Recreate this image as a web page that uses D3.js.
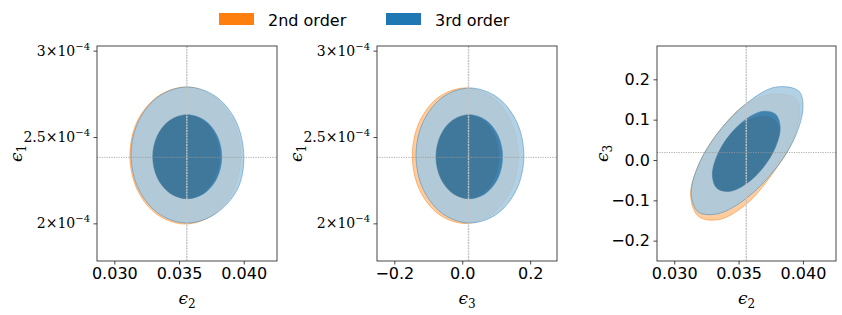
<!DOCTYPE html>
<html>
<head>
<meta charset="utf-8">
<script src="https://cdn.jsdelivr.net/npm/d3@7.9.0/dist/d3.min.js"></script>
<style>
  body { margin: 0; background: #fff; }
  svg { display: block; }
</style>
</head>
<body>
<div id="chart"></div>
<script>
// series
const seriesNames = ['2nd order', '3rd order'];
const seriesColors = ['#ff7f0e', '#1f77b4'];

// true parameter values (cross-hair lines)
const truthEps1 = 2.382e-4;
const truthEps2 = 0.0356;
const truthEps3 = 0.0185;

// axis ranges
const eps2Range = [0.02866, 0.04257];
const eps1Range = [1.782e-4, 3.027e-4];
const eps3RangeX = [-0.251, 0.279];
const eps3RangeY = [-0.2504, 0.2826];

// tick values
const eps2Ticks = [0.030, 0.035, 0.040];
const eps1Ticks = [2e-4, 2.5e-4, 3e-4];
const eps3TicksX = [-0.2, 0.0, 0.2];
const eps3TicksY = [-0.2, -0.1, 0.0, 0.1, 0.2];

// contours, [x, y] pairs
// panel 1: eps2 (x) vs eps1 (y)
const e2e1Outer2nd = [[0.039768,2.3928e-4],[0.039196,2.5915e-4],[0.037628,2.7364e-4],[0.035580,2.7897e-4],[0.033377,2.7364e-4],[0.031770,2.5915e-4],
  [0.031198,2.3928e-4],[0.031770,2.1941e-4],[0.033338,2.0492e-4],[0.035483,1.9959e-4],[0.037628,2.0492e-4],[0.039196,2.1941e-4]];
const e2e1Inner2nd = [[0.038145,2.3859e-4],[0.037797,2.5075e-4],[0.036851,2.5968e-4],[0.035557,2.6292e-4],[0.034262,2.5968e-4],[0.033315,2.5075e-4],
  [0.032968,2.3859e-4],[0.033315,2.2642e-4],[0.034262,2.1750e-4],[0.035557,2.1425e-4],[0.036851,2.1750e-4],[0.037797,2.2642e-4]];
const e2e1Outer3rd = [[0.040008,2.3859e-4],[0.039390,2.5927e-4],[0.037797,2.7370e-4],[0.035630,2.7897e-4],[0.033462,2.7370e-4],[0.031870,2.5927e-4],
  [0.031291,2.3957e-4],[0.031870,2.1987e-4],[0.033462,2.0544e-4],[0.035630,2.0017e-4],[0.037797,2.0544e-4],[0.039521,2.1987e-4]];
const e2e1Inner3rd = [[0.038300,2.3859e-4],[0.037944,2.5075e-4],[0.036967,2.5968e-4],[0.035634,2.6292e-4],[0.034301,2.5968e-4],[0.033323,2.5075e-4],
  [0.032968,2.3859e-4],[0.033323,2.2642e-4],[0.034301,2.1750e-4],[0.035634,2.1425e-4],[0.036967,2.1750e-4],[0.037944,2.2642e-4]];

// panel 2: eps3 (x) vs eps1 (y)
const e3e1Outer2nd = [[0.16470,2.3917e-4],[0.14381,2.5878e-4],[0.08676,2.7312e-4],[0.00882,2.7839e-4],[-0.06911,2.7312e-4],[-0.12617,2.5878e-4],
  [-0.14705,2.3917e-4],[-0.12617,2.1955e-4],[-0.06911,2.0521e-4],[0.00882,1.9994e-4],[0.08676,2.0521e-4],[0.14381,2.1955e-4]];
const e3e1Inner2nd = [[0.10882,2.3859e-4],[0.09635,2.5075e-4],[0.06229,2.5968e-4],[0.01573,2.6292e-4],[-0.03079,2.5968e-4],[-0.06488,2.5075e-4],
  [-0.07735,2.3859e-4],[-0.06488,2.2642e-4],[-0.03079,2.1750e-4],[0.01573,2.1425e-4],[0.06229,2.1750e-4],[0.09635,2.2642e-4]];
const e3e1Outer3rd = [[0.18146,2.3928e-4],[0.16028,2.5884e-4],[0.10205,2.7315e-4],[0.02265,2.7839e-4],[-0.05676,2.7315e-4],[-0.11499,2.5884e-4],
  [-0.13617,2.3928e-4],[-0.11499,2.1973e-4],[-0.05676,2.0541e-4],[0.02265,2.0017e-4],[0.10205,2.0541e-4],[0.16028,2.1973e-4]];
const e3e1Inner3rd = [[0.11882,2.3859e-4],[0.10567,2.5075e-4],[0.06979,2.5968e-4],[0.02073,2.6292e-4],[-0.02832,2.5968e-4],[-0.06420,2.5075e-4],
  [-0.07735,2.3859e-4],[-0.06420,2.2642e-4],[-0.02832,2.1750e-4],[0.02073,2.1425e-4],[0.06979,2.1750e-4],[0.10567,2.2642e-4]];

// panel 3: eps2 (x) vs eps3 (y)
const e2e3Outer2nd = [[0.039745,0.1241],[0.039242,0.0496],[0.037835,-0.0248],[0.035661,-0.1079],[0.033488,-0.1476],[0.031895,-0.1402],
  [0.031276,-0.0893],[0.031895,-0.0117],[0.033488,0.0713],[0.035661,0.1402],[0.037835,0.1638],[0.039474,0.1514]];
const e2e3Inner2nd = [[0.038159,0.0744],[0.037881,0.0329],[0.036918,-0.0184],[0.035599,-0.0589],[0.034281,-0.0779],[0.033318,-0.0703],
  [0.032962,-0.0381],[0.033318,0.0100],[0.034281,0.0613],[0.035599,0.0968],[0.036918,0.1092],[0.037811,0.0993]];
const e2e3Outer3rd = [[0.040010,0.1333],[0.039428,0.0598],[0.037835,-0.0232],[0.035661,-0.0935],[0.033488,-0.1324],[0.031895,-0.1293],
  [0.031315,-0.0851],[0.031895,-0.0117],[0.033488,0.0713],[0.035661,0.1417],[0.037835,0.1805],[0.039667,0.1712]];
const e2e3Inner3rd = [[0.038237,0.0810],[0.037881,0.0329],[0.036918,-0.0184],[0.035599,-0.0589],[0.034281,-0.0779],[0.033318,-0.0703],
  [0.032962,-0.0381],[0.033318,0.0100],[0.034281,0.0613],[0.035599,0.1019],[0.036918,0.1208],[0.037881,0.1133]];

const width = 842, height = 315;
const svg = d3.select('#chart').append('svg')
  .attr('width', width)
  .attr('height', height);

const fmtMinus = s => s.replace('-', '\u2212');
const sansFont = "'DejaVu Sans', sans-serif";
const serifFont = "'DejaVu Serif', serif";
const frameColor = '#333';

function drawPanel(p) {
  const x = d3.scaleLinear().domain(p.xDomain).range([p.left, p.right]);
  const y = d3.scaleLinear().domain(p.yDomain).range([p.bottom, p.top]);
  const g = svg.append('g');

  const clipId = 'clip' + p.id;
  g.append('clipPath').attr('id', clipId)
    .append('rect')
    .attr('x', p.left).attr('y', p.top)
    .attr('width', p.right - p.left).attr('height', p.bottom - p.top);

  const plot = g.append('g').attr('clip-path', `url(#${clipId})`);

  const line = d3.line()
    .x(d => x(d[0])).y(d => y(d[1]))
    .curve(d3.curveCatmullRomClosed.alpha(0.5));

  // 2nd order drawn solid, 3rd order on top with alpha (getdist style)
  p.contours.forEach((c, i) => {
    const col = seriesColors[i];
    const pale = d3.interpolateRgb('#ffffff', col)(0.4);
    const cg = plot.append('g').attr('opacity', i === 0 ? 1 : 0.85);
    cg.append('path')
      .attr('d', line(c.outer))
      .attr('fill', pale)
      .attr('stroke', col)
      .attr('stroke-width', 0.5);
    cg.append('path')
      .attr('d', line(c.inner))
      .attr('fill', col)
      .attr('stroke', col)
      .attr('stroke-width', 0.5);
  });

  // cross-hair
  plot.append('line')
    .attr('x1', x(p.xTruth)).attr('x2', x(p.xTruth))
    .attr('y1', p.top).attr('y2', p.bottom)
    .attr('stroke', '#c4c4c4').attr('stroke-width', 1.4)
    .attr('stroke-dasharray', '2,0.8');
  plot.append('line')
    .attr('x1', p.left).attr('x2', p.right)
    .attr('y1', y(p.yTruth)).attr('y2', y(p.yTruth))
    .attr('stroke', '#999').attr('stroke-width', 0.8)
    .attr('stroke-dasharray', '1.2,1.2');

  // axes
  const xAxisG = g.append('g')
    .attr('transform', `translate(0,${p.bottom})`)
    .call(d3.axisBottom(x).tickValues(p.xTicks).tickSize(3.5).tickPadding(3.5).tickFormat(p.xFormat));
  const yAxisG = g.append('g')
    .attr('transform', `translate(${p.left},0)`)
    .call(d3.axisLeft(y).tickValues(p.yTicks).tickSize(3.5).tickPadding(3.5).tickFormat(p.yFormat));

  [xAxisG, yAxisG].forEach(a => {
    a.select('.domain').remove();
    a.selectAll('.tick line').attr('stroke', frameColor).attr('stroke-width', 0.9);
    a.selectAll('.tick text').attr('fill', '#000')
      .style('font-family', sansFont).style('font-size', '16px');
  });

  if (p.sciY) {
    yAxisG.selectAll('.tick text').each(function(d) {
      const t = d3.select(this).text('').style('font-family', serifFont).style('font-size', '14px');
      t.append('tspan').text(d3.format('~g')(d / 1e-4) + '\u00d710');
      t.append('tspan').attr('dy', -6).style('font-size', '10px').text('\u22124');
    });
  }

  // frame
  g.append('rect')
    .attr('x', p.left).attr('y', p.top)
    .attr('width', p.right - p.left).attr('height', p.bottom - p.top)
    .attr('fill', 'none').attr('stroke', frameColor).attr('stroke-width', 0.9);

  // axis labels
  const xl = g.append('text')
    .attr('x', (p.left + p.right) / 2).attr('y', 304)
    .attr('text-anchor', 'middle')
    .style('font-family', serifFont).style('font-size', '17px').style('font-style', 'italic');
  xl.append('tspan').text('\u03f5');
  xl.append('tspan').attr('dy', 4).style('font-size', '12px').style('font-style', 'normal').text(p.xSub);

  const yl = g.append('text')
    .attr('transform', `translate(${p.yLabelX},${(p.top + p.bottom) / 2}) rotate(-90)`)
    .attr('text-anchor', 'middle')
    .style('font-family', serifFont).style('font-size', '17px').style('font-style', 'italic');
  yl.append('tspan').text('\u03f5');
  yl.append('tspan').attr('dy', 4).style('font-size', '12px').style('font-style', 'normal').text(p.ySub);
}

drawPanel({
  id: 1, left: 97, right: 277, top: 46, bottom: 261,
  xDomain: eps2Range, yDomain: eps1Range,
  xTicks: eps2Ticks, yTicks: eps1Ticks,
  xFormat: d3.format('.3f'), yFormat: d3.format('~g'), sciY: true,
  xTruth: truthEps2, yTruth: truthEps1,
  xSub: '2', ySub: '1', yLabelX: 22,
  contours: [
    { outer: e2e1Outer2nd, inner: e2e1Inner2nd },
    { outer: e2e1Outer3rd, inner: e2e1Inner3rd }
  ]
});

drawPanel({
  id: 2, left: 377, right: 557, top: 46, bottom: 261,
  xDomain: eps3RangeX, yDomain: eps1Range,
  xTicks: eps3TicksX, yTicks: eps1Ticks,
  xFormat: d => fmtMinus(d3.format('.1f')(d)), yFormat: d3.format('~g'), sciY: true,
  xTruth: truthEps3, yTruth: truthEps1,
  xSub: '3', ySub: '1', yLabelX: 302,
  contours: [
    { outer: e3e1Outer2nd, inner: e3e1Inner2nd },
    { outer: e3e1Outer3rd, inner: e3e1Inner3rd }
  ]
});

drawPanel({
  id: 3, left: 657, right: 836, top: 46, bottom: 261,
  xDomain: eps2Range, yDomain: eps3RangeY,
  xTicks: eps2Ticks, yTicks: eps3TicksY,
  xFormat: d3.format('.3f'), yFormat: d => fmtMinus(d3.format('.1f')(d)), sciY: false,
  xTruth: truthEps2, yTruth: truthEps3,
  xSub: '2', ySub: '3', yLabelX: 608,
  contours: [
    { outer: e2e3Outer2nd, inner: e2e3Inner2nd },
    { outer: e2e3Outer3rd, inner: e2e3Inner3rd }
  ]
});

// legend
const legendX = [219, 386];
const legend = svg.append('g');
seriesNames.forEach((name, i) => {
  legend.append('rect')
    .attr('x', legendX[i]).attr('y', 13)
    .attr('width', 35).attr('height', 12)
    .attr('fill', seriesColors[i]);
  legend.append('text')
    .attr('x', legendX[i] + 49).attr('y', 25.5)
    .style('font-family', sansFont).style('font-size', '16px')
    .attr('fill', '#000')
    .text(name);
});
</script>
</body>
</html>
